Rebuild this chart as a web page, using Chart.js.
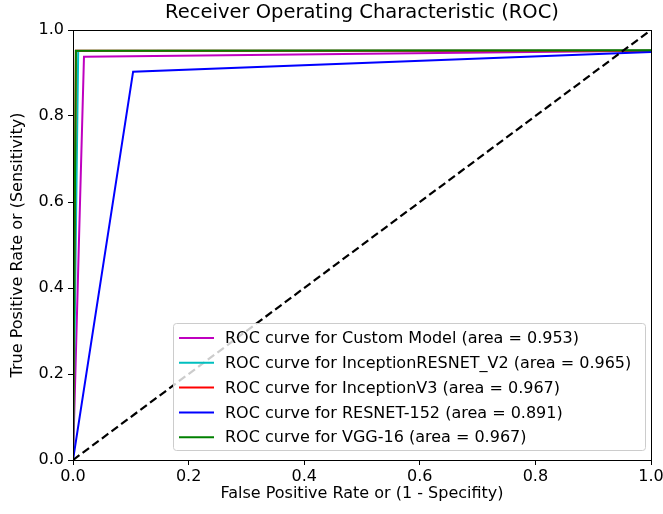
<!DOCTYPE html>
<html>
<head>
<meta charset="utf-8">
<script src="https://cdn.jsdelivr.net/npm/chart.js@4.4.0/dist/chart.umd.min.js"></script>
<style>
  html, body { margin: 0; padding: 0; background: #fff; }
  #wrap { width: 663px; height: 514px; }
</style>
</head>
<body>
<div id="wrap"><canvas id="roc" width="663" height="514"></canvas></div>
<script>
// ROC points
const modelNames = ['Custom Model', 'InceptionRESNET_V2', 'InceptionV3', 'RESNET-152', 'VGG-16'];
const areas = ['0.953', '0.965', '0.967', '0.891', '0.967'];
const colors = ['#bf00bf', '#00bfbf', '#ff0000', '#0000ff', '#008000'];

const fprCustom = [0, 0.019, 1];
const tprCustom = [0, 0.938, 0.952];
const fprIncRes = [0, 0.009, 1];
const tprIncRes = [0, 0.951, 0.952];
const fprIncV3 = [0, 0.005, 1];
const tprIncV3 = [0, 0.952, 0.952];
const fprResnet = [0, 0.104, 1];
const tprResnet = [0, 0.903, 0.949];
const fprVgg = [0, 0.005, 1];
const tprVgg = [0, 0.952, 0.953];
const chanceLine = [0, 1];

const axisTicks = [0, 0.2, 0.4, 0.6, 0.8, 1.0];

const fprs = [fprCustom, fprIncRes, fprIncV3, fprResnet, fprVgg];
const tprs = [tprCustom, tprIncRes, tprIncV3, tprResnet, tprVgg];

const font = "'DejaVu Sans', sans-serif";

// later models are drawn on top, like in the original plot order
const datasets = modelNames.map((name, i) => ({
  label: 'ROC curve for ' + name + ' (area = ' + areas[i] + ')',
  data: fprs[i].map((x, j) => ({ x: x, y: tprs[i][j] })),
  borderColor: colors[i],
  borderWidth: 2,
  pointRadius: 0,
  tension: 0,
  fill: false,
  order: 10 - i
}));
datasets.push({
  label: 'chance',
  data: chanceLine.map(v => ({ x: v, y: v })),
  borderColor: '#000',
  borderWidth: 2.2,
  borderDash: [8, 4],
  pointRadius: 0,
  fill: false,
  order: 0
});

// frame, title and the legend box in the lower right
const extras = {
  id: 'extras',
  afterDraw(chart) {
    const ctx = chart.ctx;
    const a = chart.chartArea;
    ctx.save();
    ctx.strokeStyle = '#000';
    ctx.lineWidth = 1;
    ctx.strokeRect(Math.round(a.left) + 0.5, Math.round(a.top) + 0.5,
      Math.round(a.right - a.left), Math.round(a.bottom - a.top));

    ctx.fillStyle = '#000';
    ctx.font = '19.5px ' + font;
    ctx.textAlign = 'center';
    ctx.textBaseline = 'middle';
    ctx.fillText('Receiver Operating Characteristic (ROC)', (a.left + a.right) / 2, 13);

    // legend
    const bx = 173, by = 323, bw = 472, bh = 127;
    ctx.beginPath();
    ctx.roundRect(bx + 0.5, by + 0.5, bw, bh, 3);
    ctx.fillStyle = 'rgba(255,255,255,0.8)';
    ctx.fill();
    ctx.strokeStyle = '#cccccc';
    ctx.stroke();
    ctx.font = '16px ' + font;
    ctx.textAlign = 'left';
    for (let i = 0; i < modelNames.length; i++) {
      const y = 338 + i * 24.8;
      ctx.beginPath();
      ctx.moveTo(179, y);
      ctx.lineTo(214, y);
      ctx.strokeStyle = colors[i];
      ctx.lineWidth = 2;
      ctx.stroke();
      ctx.fillStyle = '#000';
      ctx.fillText(chart.data.datasets[i].label, 225, y + 1);
    }
    ctx.restore();
  }
};

new Chart(document.getElementById('roc').getContext('2d'), {
  type: 'line',
  data: { datasets: datasets },
  options: {
    responsive: false,
    animation: false,
    layout: { padding: { left: 8, right: 12, top: 30, bottom: 11 } },
    plugins: { legend: { display: false }, tooltip: { enabled: false } },
    scales: {
      x: {
        type: 'linear',
        min: 0, max: 1,
        afterBuildTicks(s) { s.ticks = axisTicks.map(v => ({ value: v })); },
        afterFit(s) { s.height = 43; s.paddingRight = 0; s.paddingLeft = 0; },
        grid: { drawOnChartArea: false, drawTicks: true, tickLength: 5, color: '#000' },
        border: { display: false },
        ticks: { color: '#000', font: { family: font, size: 16 }, padding: 2,
                 maxRotation: 0, callback: v => v.toFixed(1) },
        title: { display: true, text: 'False Positive Rate or (1 - Specifity)', color: '#000',
                 font: { family: font, size: 16 }, padding: { top: 2, bottom: 0 } }
      },
      y: {
        type: 'linear',
        min: 0, max: 1,
        afterBuildTicks(s) { s.ticks = axisTicks.map(v => ({ value: v })); },
        afterFit(s) { s.width = 65; s.paddingTop = 0; s.paddingBottom = 0; },
        grid: { drawOnChartArea: false, drawTicks: true, tickLength: 5, color: '#000' },
        border: { display: false },
        ticks: { color: '#000', font: { family: font, size: 16 }, padding: 4,
                 callback: v => v.toFixed(1) },
        title: { display: true, text: 'True Positive Rate or (Sensitivity)', color: '#000',
                 font: { family: font, size: 16 }, padding: { top: 0, bottom: 4 } }
      }
    }
  },
  plugins: [extras]
});
</script>
</body>
</html>
